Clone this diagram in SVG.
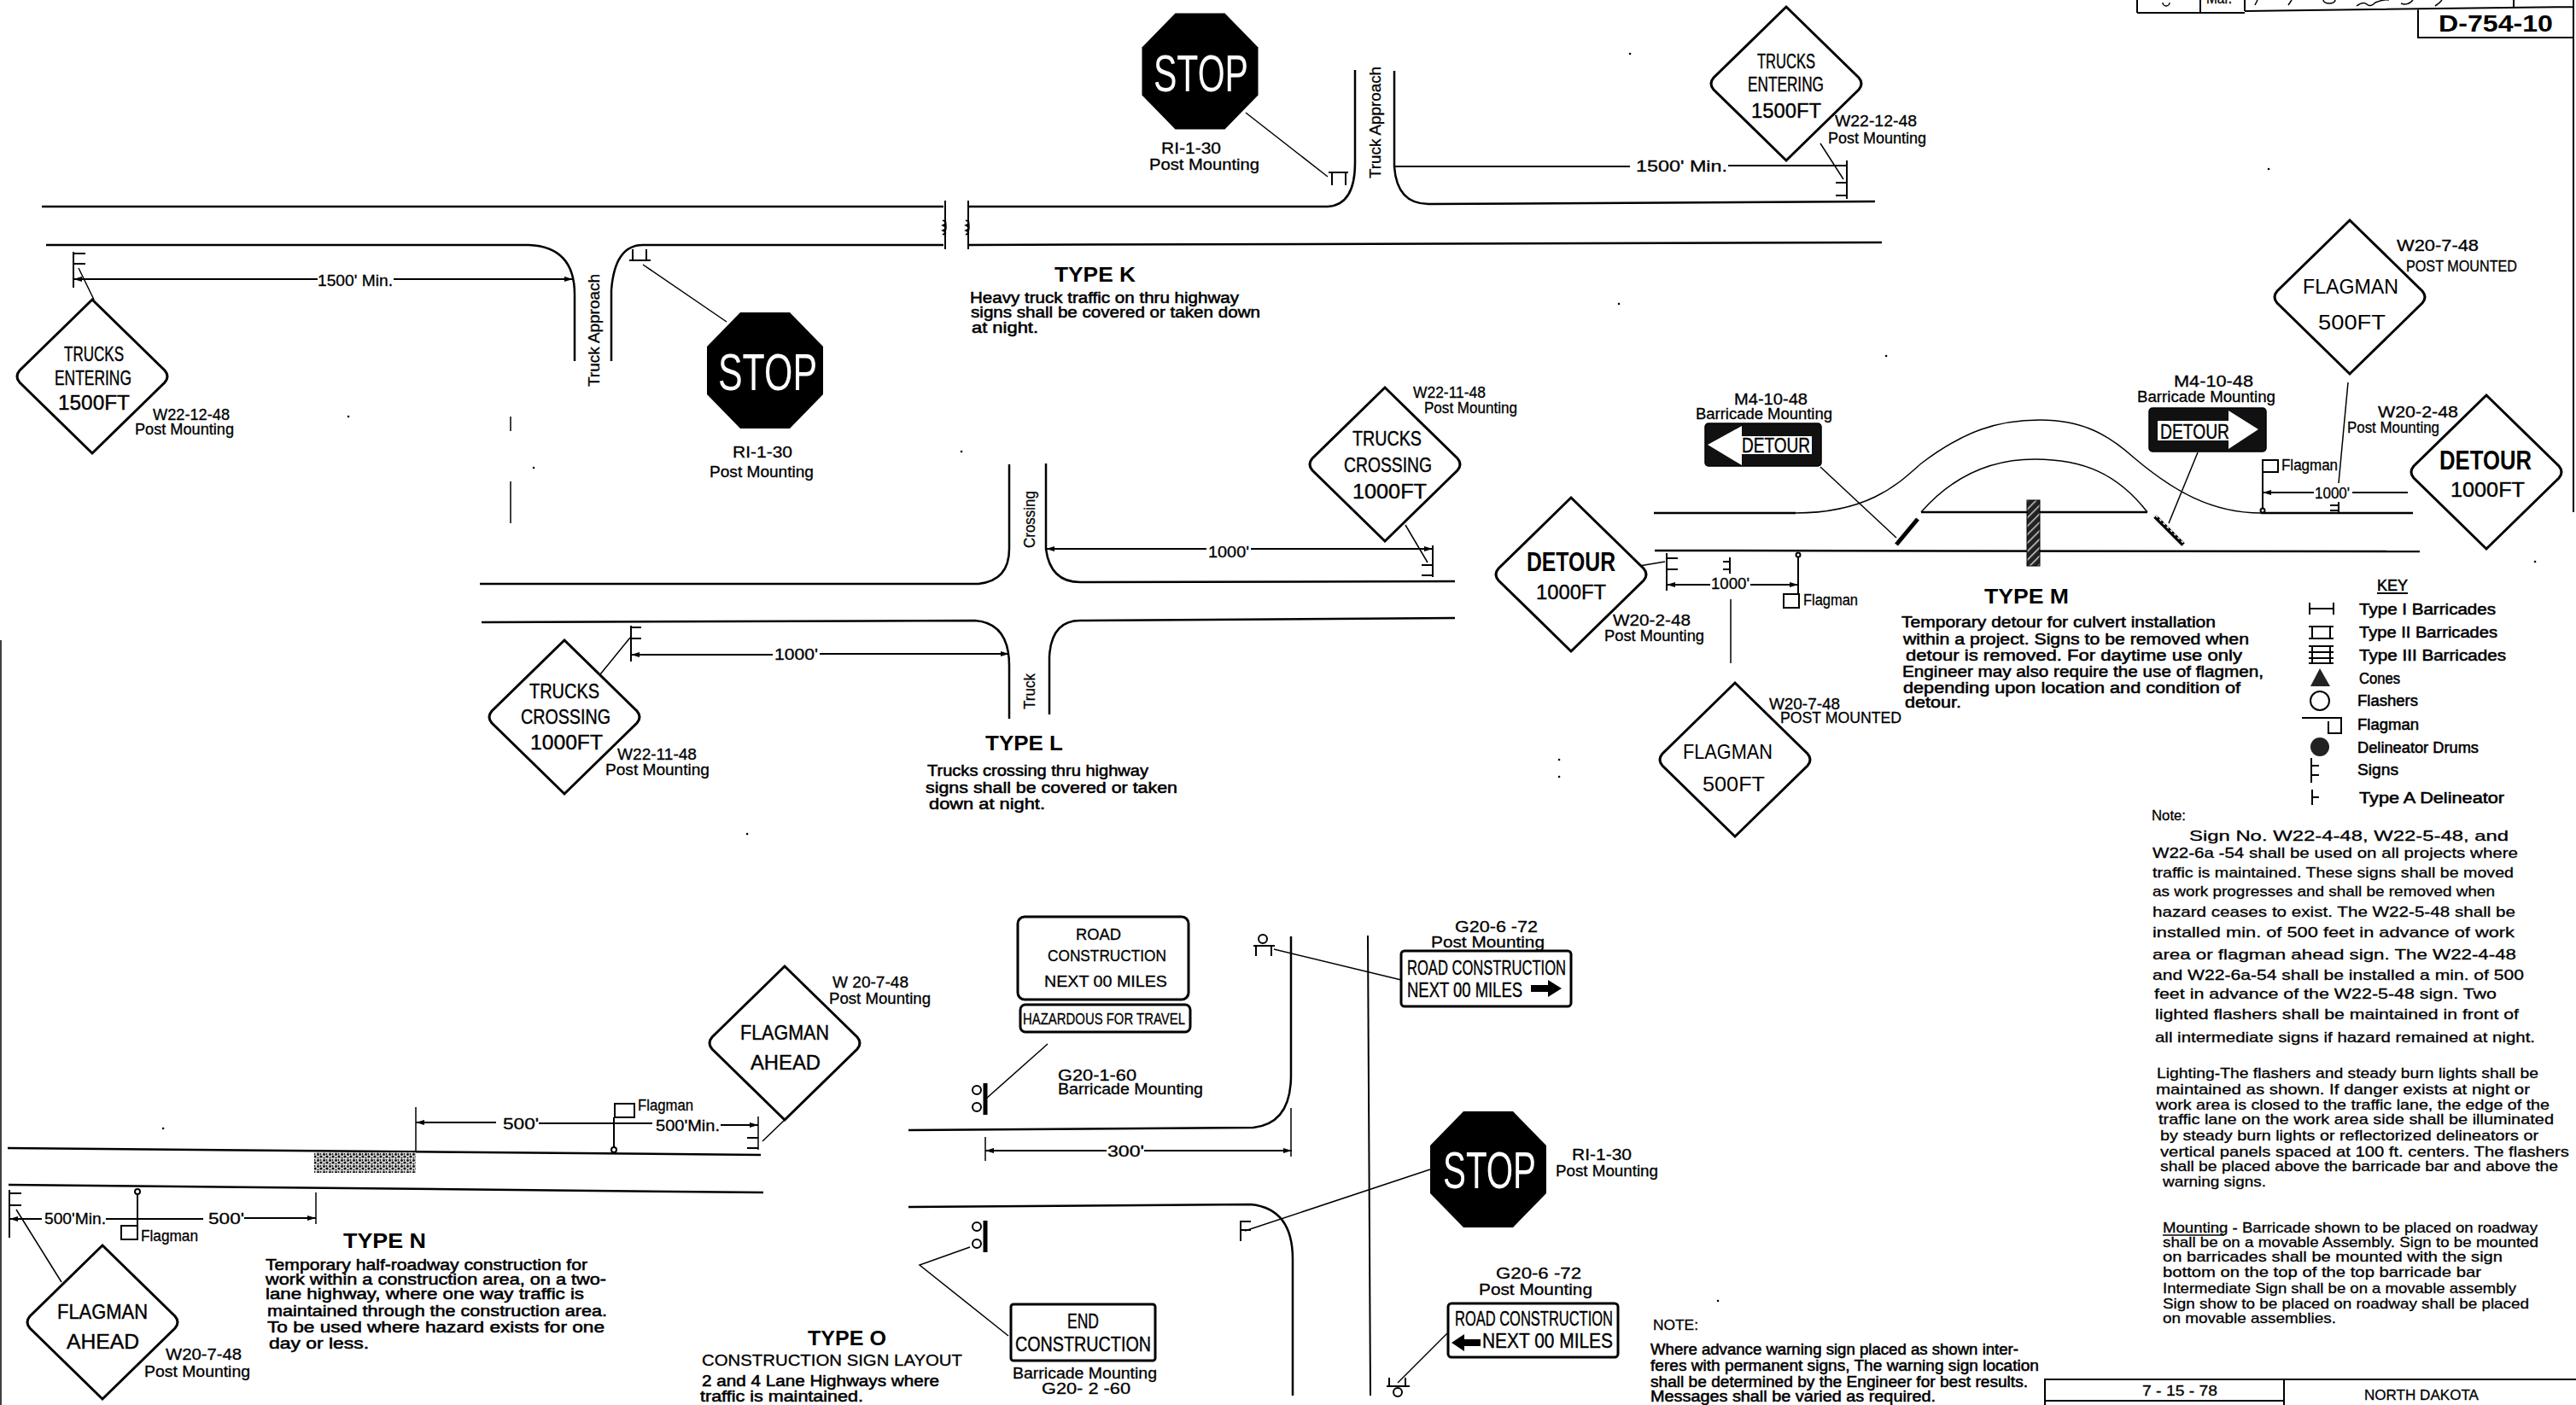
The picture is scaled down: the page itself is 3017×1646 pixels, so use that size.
<svg xmlns="http://www.w3.org/2000/svg" width="3017" height="1646" viewBox="0 0 3017 1646">
<style>
text{font-family:"Liberation Sans",Arial,sans-serif;fill:#000}
.s{font-size:18px;stroke:#000;stroke-width:.3px}
.p{font-size:18px;stroke:#000;stroke-width:.55px}
.n{font-size:17px;stroke:#000;stroke-width:.3px}
.h{font-size:24px;font-weight:bold}
.g{font-size:24px;stroke:#000;stroke-width:.4px}
.gb{font-size:31px;font-weight:bold}
.stop{font-size:62px;fill:#fff}
.w{fill:#fff}
.road{fill:none;stroke:#000;stroke-width:2.5}
.lead{fill:none;stroke:#000;stroke-width:1.5}
.dim{fill:none;stroke:#000;stroke-width:2;marker-end:url(#ah)}
.plain{fill:none;stroke:#000;stroke-width:2}
.sign{fill:#fff;stroke:#000;stroke-width:3}
.oct{fill:#000}
.blk{fill:#111;stroke:#000;stroke-width:1.5}
.fl{fill:#fff;stroke:#000;stroke-width:2}
</style>
<defs>
<marker id="ah" viewBox="0 0 10 6" refX="10" refY="3" markerWidth="10" markerHeight="6" markerUnits="userSpaceOnUse" orient="auto"><path d="M0,0L10,3L0,6Z" fill="#000"/></marker>
<path id="dia" d="M0,-90L85,-7Q91,0 85,7L0,90L-85,7Q-91,0 -85,-7Z"/>
<polygon id="octa" points="-29,-68 29,-68 68,-28 68,28 29,68 -29,68 -68,28 -68,-28"/>
<pattern id="hatch" width="7" height="7" patternUnits="userSpaceOnUse" patternTransform="rotate(-45)"><rect width="7" height="7" fill="#222"/><rect y="0" width="7" height="1.5" fill="#ccc"/></pattern>
<pattern id="stip" width="7" height="7" patternUnits="userSpaceOnUse"><rect width="7" height="7" fill="#ddd"/><circle cx="1.5" cy="1.5" r="1.4" fill="#111"/><circle cx="5" cy="4" r="1.6" fill="#111"/><circle cx="4.5" cy="1" r=".9" fill="#111"/><circle cx="1.5" cy="5.5" r="1" fill="#111"/></pattern>
</defs>
<rect width="3017" height="1646" fill="#fff"/>

<g id="roads">
<path class="road" d="M49,242H1105M1135,242H1555Q1587,240 1587,191V82"/>
<path class="road" d="M1633,83V195Q1636,239 1673,239L2196,236"/>
<path class="road" d="M54,287H619Q673,289 673,345V423"/>
<path class="road" d="M716,423V340Q720,287 753,287H1105M1135,287L2204,284"/>
<path class="plain" d="M1107,235V292M1134,235V292"/>
<path class="lead" d="M1104,258q7,3 0,6q7,3 0,6q7,3 0,5q6,-3 3,-18M1131,258q7,3 0,6q7,3 0,6q7,3 0,5q6,-3 3,-18"/>
<path class="road" d="M562,684H1146Q1182,680 1182,643V544"/>
<path class="road" d="M1225,543V643Q1230,682 1265,682L1704,681"/>
<path class="road" d="M564,729L1142,727Q1182,730 1182,780V842"/>
<path class="road" d="M1229,837V770Q1231,727 1265,727L1704,724"/>
<path class="road" d="M1937,601H2103M2648,601H2826"/>
<path class="lead" d="M2103,601C2190,601 2225,565 2250,543C2300,505 2340,492 2389,492C2440,492 2470,510 2499,536C2545,575 2590,601 2648,601"/>
<path class="road" d="M2250,600H2515"/>
<path class="lead" d="M2250,600C2285,560 2330,538 2383,538C2440,538 2480,555 2515,600"/>
<path class="road" d="M1938,645L2834,646"/>
<rect x="2374" y="586" width="15" height="77" fill="url(#hatch)" stroke="#000"/>
<path d="M2246,608L2221,638" fill="none" stroke="#000" stroke-width="5"/>
<path d="M2524,605L2557,638" fill="none" stroke="#000" stroke-width="5"/>
<path d="M2525,604L2558,637" fill="none" stroke="#fff" stroke-width="1.5" stroke-dasharray="3 3"/>
<path class="road" d="M9,1345L891,1353"/>
<path class="road" d="M10,1388L894,1397"/>
<rect x="368" y="1350" width="119" height="24" fill="url(#stip)"/>
<path class="road" d="M1064,1324L1468,1321Q1512,1316 1512,1260V1097"/>
<path class="road" d="M1064,1414L1465,1411Q1514,1416 1514,1475V1635"/>
<path class="plain" d="M1602,1096L1605,1635"/>
<path class="lead" d="M598,488V505M598,564V613"/>
</g>

<g id="connectors">
<path class="dim" d="M372,327H86"/><path class="dim" d="M461,327H671"/>
<path class="lead" d="M92,314L110,351"/>
<path class="lead" d="M753,310L851,377"/>
<path class="lead" d="M1459,132L1555,207"/>
<path class="plain" d="M1633,195H1909M2024,194H2162"/>
<path class="lead" d="M2132,168L2159,210"/>
<path class="dim" d="M1413,643H1225"/><path class="dim" d="M1465,643H1678"/>
<path class="lead" d="M1646,615L1672,659"/>
<path class="dim" d="M905,767H739"/><path class="dim" d="M960,766H1182"/>
<path class="lead" d="M738,747L703,790"/>
<path class="lead" d="M2132,547L2221,630"/>
<path class="lead" d="M2574,530L2540,613"/>
<path class="dim" d="M2710,577H2650"/><path class="plain" d="M2755,577H2820"/>
<path class="lead" d="M2750,448L2739,566"/>
<path class="lead" d="M1920,663L1950,658"/>
<path class="dim" d="M2003,685H1952"/><path class="dim" d="M2050,685H2106"/>
<path class="lead" d="M2027,702V777"/>
<path class="dim" d="M581,1315H487"/><path class="plain" d="M631,1316H764"/><path class="dim" d="M844,1318H888"/>
<path class="lead" d="M487,1297V1350M888,1308V1347"/>
<path class="lead" d="M920,1311L893,1337"/>
<path class="dim" d="M49,1428H11"/><path class="plain" d="M124,1428H238"/><path class="dim" d="M286,1427H370"/>
<path class="lead" d="M370,1397V1434"/>
<path class="lead" d="M19,1417L72,1502"/>
<path class="lead" d="M1227,1223L1155,1287"/>
<path class="dim" d="M1296,1348H1154"/><path class="dim" d="M1340,1348H1513"/>
<path class="lead" d="M1154,1332V1360M1512,1298V1355"/>
<path class="lead" d="M1136,1461L1077,1482L1181,1565"/>
<path class="lead" d="M1492,1112L1641,1148"/>
<path class="lead" d="M1675,1370L1458,1442"/>
<path class="lead" d="M1695,1562L1637,1620"/>
</g>

<g id="sign-posts">
<path class="plain" d="M86,295V337M86,297H100M86,309H100"/>
<path class="plain" d="M737,305H762M741,305V292M757,305V292"/>
<path class="plain" d="M1556,202H1579M1560,202V217M1576,202V217"/>
<path class="plain" d="M2163,188V233M2150,214H2163M2150,229H2163"/>
<path class="plain" d="M1678,639V676M1665,662H1678M1665,674H1678"/>
<path class="plain" d="M739,733V775M739,735H751M739,748H751"/>
<path class="plain" d="M1952,648V692M1952,654H1965M1952,667H1965"/>
<path class="plain" d="M2026,653V672M2018,658H2026M2018,667H2026"/>
<path class="plain" d="M2739,588V601M2729,592H2739M2729,598H2739"/>
<path class="plain" d="M2650,553V596"/><circle class="fl" cx="2650" cy="598" r="2.5"/>
<rect class="fl" x="2650" y="539" width="18" height="14"/>
<path class="plain" d="M2106,652V696"/><circle class="fl" cx="2106" cy="650" r="2.5"/>
<rect class="fl" x="2089" y="696" width="18" height="16"/>
<path class="plain" d="M888,1333H875M888,1345H875"/>
<path class="plain" d="M719,1309V1344"/><circle class="fl" cx="719" cy="1347" r="3"/>
<rect class="fl" x="720" y="1293" width="23" height="16"/>
<path class="plain" d="M11,1394V1450M11,1398H25M11,1412H25"/>
<path class="plain" d="M161,1399V1436"/><circle class="fl" cx="161" cy="1396" r="3"/>
<rect class="fl" x="142" y="1436" width="19" height="16"/>
<path d="M1154,1269V1306" fill="none" stroke="#000" stroke-width="5"/><circle class="fl" cx="1144" cy="1277" r="5"/><circle class="fl" cx="1144" cy="1297" r="5"/>
<path d="M1154,1430V1467" fill="none" stroke="#000" stroke-width="5"/><circle class="fl" cx="1144" cy="1437" r="5"/><circle class="fl" cx="1144" cy="1457" r="5"/>
<circle class="fl" cx="1479" cy="1100" r="5"/><path class="plain" d="M1468,1108H1493M1471,1108V1120M1489,1108V1120"/>
<path class="plain" d="M1453,1430V1454M1453,1431H1465M1453,1441H1465"/>
<path class="plain" d="M1627,1614V1624M1646,1614V1624M1624,1624H1651"/><circle class="fl" cx="1637" cy="1631" r="5"/>
</g>

<g id="sign-trucks-entering-left">
<use href="#dia" x="108" y="441" class="sign"/>
<text class="g" x="75" y="423" textLength="70" lengthAdjust="spacingAndGlyphs">TRUCKS</text>
<text class="g" x="64" y="451" textLength="90" lengthAdjust="spacingAndGlyphs">ENTERING</text>
<text class="g" x="68" y="480" textLength="84" lengthAdjust="spacingAndGlyphs">1500FT</text>
<text class="s" x="179" y="492" textLength="90" lengthAdjust="spacingAndGlyphs">W22-12-48</text>
<text class="s" x="158" y="509" textLength="116" lengthAdjust="spacingAndGlyphs">Post Mounting</text>
</g>
<g id="sign-stop-k-left">
<use href="#octa" x="896" y="434" class="oct"/>
<text class="stop" x="841" y="457" textLength="116" lengthAdjust="spacingAndGlyphs">STOP</text>
<text class="s" x="858" y="536" textLength="70" lengthAdjust="spacingAndGlyphs">RI-1-30</text>
<text class="s" x="831" y="559" textLength="122" lengthAdjust="spacingAndGlyphs">Post Mounting</text>
</g>
<g id="sign-stop-k-top">
<use href="#octa" x="1405.5" y="83.5" class="oct"/>
<text class="stop" x="1351" y="107" textLength="111" lengthAdjust="spacingAndGlyphs">STOP</text>
<text class="s" x="1360" y="180" textLength="70" lengthAdjust="spacingAndGlyphs">RI-1-30</text>
<text class="s" x="1346" y="199" textLength="129" lengthAdjust="spacingAndGlyphs">Post Mounting</text>
</g>
<g id="sign-trucks-entering-right">
<use href="#dia" x="2092" y="98" class="sign"/>
<text class="g" x="2058" y="80" textLength="68" lengthAdjust="spacingAndGlyphs">TRUCKS</text>
<text class="g" x="2047" y="107" textLength="89" lengthAdjust="spacingAndGlyphs">ENTERING</text>
<text class="g" x="2051" y="138" textLength="82" lengthAdjust="spacingAndGlyphs">1500FT</text>
<text class="s" x="2149" y="148" textLength="96" lengthAdjust="spacingAndGlyphs">W22-12-48</text>
<text class="s" x="2141" y="168" textLength="115" lengthAdjust="spacingAndGlyphs">Post Mounting</text>
</g>
<g id="type-k-text">
<text class="s" x="372" y="335" textLength="88" lengthAdjust="spacingAndGlyphs">1500' Min.</text>
<text class="s" x="1916" y="201" textLength="107" lengthAdjust="spacingAndGlyphs">1500' Min.</text>
<text class="s" transform="rotate(-90 702 453)" x="702" y="453" textLength="132" lengthAdjust="spacingAndGlyphs">Truck Approach</text>
<text class="s" transform="rotate(-90 1617 209)" x="1617" y="209" textLength="131" lengthAdjust="spacingAndGlyphs">Truck Approach</text>
<text class="h" x="1235" y="330" textLength="95" lengthAdjust="spacingAndGlyphs">TYPE K</text>
<text class="p" x="1136" y="355" textLength="315" lengthAdjust="spacingAndGlyphs">Heavy truck traffic on thru highway</text>
<text class="p" x="1137" y="372" textLength="339" lengthAdjust="spacingAndGlyphs">signs shall be covered or taken down</text>
<text class="p" x="1138" y="390" textLength="78" lengthAdjust="spacingAndGlyphs">at night.</text>
</g>

<g id="sign-trucks-crossing-right">
<use href="#dia" x="1622" y="544" class="sign"/>
<text class="g" x="1584" y="522" textLength="81" lengthAdjust="spacingAndGlyphs">TRUCKS</text>
<text class="g" x="1574" y="553" textLength="103" lengthAdjust="spacingAndGlyphs">CROSSING</text>
<text class="g" x="1584" y="584" textLength="87" lengthAdjust="spacingAndGlyphs">1000FT</text>
<text class="s" x="1655" y="466" textLength="85" lengthAdjust="spacingAndGlyphs">W22-11-48</text>
<text class="s" x="1668" y="484" textLength="109" lengthAdjust="spacingAndGlyphs">Post Mounting</text>
</g>
<g id="sign-trucks-crossing-left">
<use href="#dia" x="661" y="840" class="sign"/>
<text class="g" x="620" y="818" textLength="82" lengthAdjust="spacingAndGlyphs">TRUCKS</text>
<text class="g" x="610" y="848" textLength="105" lengthAdjust="spacingAndGlyphs">CROSSING</text>
<text class="g" x="621" y="878" textLength="85" lengthAdjust="spacingAndGlyphs">1000FT</text>
<text class="s" x="723" y="890" textLength="93" lengthAdjust="spacingAndGlyphs">W22-11-48</text>
<text class="s" x="709" y="908" textLength="122" lengthAdjust="spacingAndGlyphs">Post Mounting</text>
</g>
<g id="type-l-text">
<text class="s" transform="rotate(-90 1212 642)" x="1212" y="642" textLength="67" lengthAdjust="spacingAndGlyphs">Crossing</text>
<text class="s" transform="rotate(-90 1212 831)" x="1212" y="831" textLength="42" lengthAdjust="spacingAndGlyphs">Truck</text>
<text class="s" x="1415" y="653" textLength="48" lengthAdjust="spacingAndGlyphs">1000'</text>
<text class="s" x="907" y="773" textLength="51" lengthAdjust="spacingAndGlyphs">1000'</text>
<text class="h" x="1154" y="879" textLength="91" lengthAdjust="spacingAndGlyphs">TYPE L</text>
<text class="p" x="1086" y="909" textLength="259" lengthAdjust="spacingAndGlyphs">Trucks crossing thru highway</text>
<text class="p" x="1084" y="929" textLength="295" lengthAdjust="spacingAndGlyphs">signs shall be covered or taken</text>
<text class="p" x="1088" y="948" textLength="136" lengthAdjust="spacingAndGlyphs">down at night.</text>
</g>

<g id="sign-detour-arrow-left">
<rect class="blk" x="1997" y="496" width="136" height="50" rx="4"/>
<polygon class="w" points="2000,521 2040,499 2040,511 2122,511 2122,532 2040,532 2040,545"/>
<text class="g" x="2040" y="530" textLength="80" lengthAdjust="spacingAndGlyphs">DETOUR</text>
<text class="s" x="2031" y="474" textLength="86" lengthAdjust="spacingAndGlyphs">M4-10-48</text>
<text class="s" x="1986" y="491" textLength="160" lengthAdjust="spacingAndGlyphs">Barricade Mounting</text>
</g>
<g id="sign-detour-arrow-right">
<rect class="blk" x="2517" y="478" width="137" height="51" rx="4"/>
<polygon class="w" points="2527,493 2610,493 2610,481 2645,503 2610,526 2610,516 2527,516"/>
<text class="g" x="2530" y="514" textLength="81" lengthAdjust="spacingAndGlyphs">DETOUR</text>
<text class="s" x="2546" y="453" textLength="93" lengthAdjust="spacingAndGlyphs">M4-10-48</text>
<text class="s" x="2503" y="471" textLength="162" lengthAdjust="spacingAndGlyphs">Barricade Mounting</text>
</g>
<g id="sign-flagman-500-right">
<use href="#dia" x="2752" y="348" class="sign"/>
<text class="g" style="stroke-width:0" x="2697" y="344" textLength="112" lengthAdjust="spacingAndGlyphs">FLAGMAN</text>
<text class="g" style="stroke-width:0" x="2715" y="386" textLength="79" lengthAdjust="spacingAndGlyphs">500FT</text>
<text class="s" x="2807" y="294" textLength="96" lengthAdjust="spacingAndGlyphs">W20-7-48</text>
<text class="s" x="2818" y="318" textLength="130" lengthAdjust="spacingAndGlyphs">POST MOUNTED</text>
</g>
<g id="sign-detour-1000-right">
<use href="#dia" x="2912" y="553" class="sign"/>
<text class="gb" x="2857" y="550" textLength="108" lengthAdjust="spacingAndGlyphs">DETOUR</text>
<text class="g" x="2870" y="582" textLength="87" lengthAdjust="spacingAndGlyphs">1000FT</text>
<text class="s" x="2785" y="489" textLength="94" lengthAdjust="spacingAndGlyphs">W20-2-48</text>
<text class="s" x="2749" y="507" textLength="108" lengthAdjust="spacingAndGlyphs">Post Mounting</text>
</g>
<g id="sign-detour-1000-left">
<use href="#dia" x="1840" y="673" class="sign"/>
<text class="gb" x="1788" y="669" textLength="104" lengthAdjust="spacingAndGlyphs">DETOUR</text>
<text class="g" x="1799" y="702" textLength="82" lengthAdjust="spacingAndGlyphs">1000FT</text>
<text class="s" x="1889" y="733" textLength="91" lengthAdjust="spacingAndGlyphs">W20-2-48</text>
<text class="s" x="1879" y="751" textLength="117" lengthAdjust="spacingAndGlyphs">Post Mounting</text>
</g>
<g id="sign-flagman-500-left">
<use href="#dia" x="2032" y="890" class="sign"/>
<text class="g" style="stroke-width:0" x="1971" y="889" textLength="105" lengthAdjust="spacingAndGlyphs">FLAGMAN</text>
<text class="g" style="stroke-width:0" x="1994" y="927" textLength="73" lengthAdjust="spacingAndGlyphs">500FT</text>
<text class="s" x="2072" y="831" textLength="83" lengthAdjust="spacingAndGlyphs">W20-7-48</text>
<text class="s" x="2085" y="847" textLength="142" lengthAdjust="spacingAndGlyphs">POST MOUNTED</text>
</g>
<g id="type-m-text">
<text class="s" x="2672" y="551" textLength="66" lengthAdjust="spacingAndGlyphs">Flagman</text>
<text class="s" x="2711" y="584" textLength="41" lengthAdjust="spacingAndGlyphs">1000'</text>
<text class="s" x="2004" y="690" textLength="45" lengthAdjust="spacingAndGlyphs">1000'</text>
<text class="s" x="2112" y="709" textLength="64" lengthAdjust="spacingAndGlyphs">Flagman</text>
<text class="h" x="2324" y="707" textLength="99" lengthAdjust="spacingAndGlyphs">TYPE M</text>
<text class="p" x="2227" y="735" textLength="368" lengthAdjust="spacingAndGlyphs">Temporary detour for culvert installation</text>
<text class="p" x="2229" y="755" textLength="405" lengthAdjust="spacingAndGlyphs">within a project. Signs to be removed when</text>
<text class="p" x="2232" y="774" textLength="394" lengthAdjust="spacingAndGlyphs">detour is removed. For daytime use only</text>
<text class="p" x="2228" y="793" textLength="423" lengthAdjust="spacingAndGlyphs">Engineer may also require the use of flagmen,</text>
<text class="p" x="2229" y="812" textLength="395" lengthAdjust="spacingAndGlyphs">depending upon location and condition of</text>
<text class="p" x="2231" y="829" textLength="66" lengthAdjust="spacingAndGlyphs">detour.</text>
</g>

<g id="key">
<text class="p" x="2784" y="692" textLength="36" lengthAdjust="spacingAndGlyphs">KEY</text><path class="plain" d="M2784,695H2820"/>
<path class="plain" d="M2705,706V720M2733,706V720M2705,713H2733"/>
<text class="p" x="2763" y="720" textLength="160" lengthAdjust="spacingAndGlyphs">Type I Barricades</text>
<path class="plain" d="M2704,734H2733M2704,748H2733M2708,734V748M2729,734V748"/>
<text class="p" x="2763" y="747" textLength="162" lengthAdjust="spacingAndGlyphs">Type II Barricades</text>
<path class="plain" d="M2704,757H2733M2704,764H2733M2704,771H2733M2704,777H2733M2708,757V777M2729,757V777"/>
<text class="p" x="2763" y="774" textLength="172" lengthAdjust="spacingAndGlyphs">Type III Barricades</text>
<polygon points="2717,783 2729,804 2706,804" fill="#222"/>
<text class="p" x="2763" y="801" textLength="48" lengthAdjust="spacingAndGlyphs">Cones</text>
<ellipse class="fl" cx="2717" cy="821" rx="11" ry="11"/>
<text class="p" x="2761" y="827" textLength="71" lengthAdjust="spacingAndGlyphs">Flashers</text>
<path class="plain" d="M2696,841H2742V859H2727V845"/>
<text class="p" x="2761" y="855" textLength="72" lengthAdjust="spacingAndGlyphs">Flagman</text>
<circle cx="2717" cy="875" r="11" fill="#222"/>
<text class="p" x="2761" y="882" textLength="142" lengthAdjust="spacingAndGlyphs">Delineator Drums</text>
<path class="plain" d="M2707,888V917M2707,897H2716M2707,908H2716"/>
<text class="p" x="2761" y="908" textLength="48" lengthAdjust="spacingAndGlyphs">Signs</text>
<path class="plain" d="M2708,925V943M2708,934H2716"/>
<text class="p" x="2763" y="941" textLength="170" lengthAdjust="spacingAndGlyphs">Type A Delineator</text>
</g>

<g id="notes">
<text class="n" x="2520" y="961" textLength="40" lengthAdjust="spacingAndGlyphs">Note:</text>
<text class="n" x="2564" y="985" textLength="374" lengthAdjust="spacingAndGlyphs">Sign No.  W22-4-48,  W22-5-48, and</text>
<text class="n" x="2521" y="1005" textLength="428" lengthAdjust="spacingAndGlyphs">W22-6a -54 shall be used on all projects where</text>
<text class="n" x="2521" y="1028" textLength="423" lengthAdjust="spacingAndGlyphs">traffic is maintained. These signs shall be moved</text>
<text class="n" x="2521" y="1050" textLength="401" lengthAdjust="spacingAndGlyphs">as work progresses and shall be removed when</text>
<text class="n" x="2521" y="1074" textLength="425" lengthAdjust="spacingAndGlyphs">hazard ceases to exist. The  W22-5-48 shall be</text>
<text class="n" x="2521" y="1098" textLength="424" lengthAdjust="spacingAndGlyphs">installed min. of 500 feet in advance of work</text>
<text class="n" x="2521" y="1124" textLength="426" lengthAdjust="spacingAndGlyphs">area or flagman ahead sign. The W22-4-48</text>
<text class="n" x="2521" y="1148" textLength="435" lengthAdjust="spacingAndGlyphs">and W22-6a-54 shall be installed a min. of 500</text>
<text class="n" x="2523" y="1170" textLength="401" lengthAdjust="spacingAndGlyphs">feet in advance of the W22-5-48 sign. Two</text>
<text class="n" x="2524" y="1194" textLength="426" lengthAdjust="spacingAndGlyphs">lighted flashers shall be maintained in front of</text>
<text class="n" x="2524" y="1221" textLength="445" lengthAdjust="spacingAndGlyphs">all intermediate signs if hazard remained at night.</text>
<text class="n" x="2526" y="1263" textLength="447" lengthAdjust="spacingAndGlyphs">Lighting-The flashers and steady burn lights shall be</text>
<text class="n" x="2525" y="1282" textLength="438" lengthAdjust="spacingAndGlyphs">maintained as shown. If danger exists at night or</text>
<text class="n" x="2525" y="1300" textLength="461" lengthAdjust="spacingAndGlyphs">work area is closed to the traffic lane, the edge of the</text>
<text class="n" x="2528" y="1317" textLength="463" lengthAdjust="spacingAndGlyphs">traffic lane on the work area side shall be illuminated</text>
<text class="n" x="2530" y="1336" textLength="443" lengthAdjust="spacingAndGlyphs">by steady burn lights or reflectorized delineators or</text>
<text class="n" x="2530" y="1355" textLength="479" lengthAdjust="spacingAndGlyphs">vertical panels spaced at 100 ft. centers. The flashers</text>
<text class="n" x="2530" y="1372" textLength="466" lengthAdjust="spacingAndGlyphs">shall be placed above the barricade bar and above the</text>
<text class="n" x="2533" y="1390" textLength="121" lengthAdjust="spacingAndGlyphs">warning signs.</text>
<text class="n" x="2533" y="1444" textLength="439" lengthAdjust="spacingAndGlyphs">Mounting - Barricade shown to be placed on roadway</text>
<path class="lead" d="M2533,1447H2605"/>
<text class="n" x="2533" y="1461" textLength="440" lengthAdjust="spacingAndGlyphs">shall be on a movable Assembly. Sign to be mounted</text>
<text class="n" x="2533" y="1478" textLength="398" lengthAdjust="spacingAndGlyphs">on barricades shall be mounted with the sign</text>
<text class="n" x="2533" y="1496" textLength="373" lengthAdjust="spacingAndGlyphs">bottom on the top of the top barricade bar</text>
<text class="n" x="2533" y="1515" textLength="414" lengthAdjust="spacingAndGlyphs">Intermediate Sign shall be on a movable assembly</text>
<text class="n" x="2533" y="1533" textLength="429" lengthAdjust="spacingAndGlyphs">Sign show to be placed on roadway shall be placed</text>
<text class="n" x="2533" y="1550" textLength="203" lengthAdjust="spacingAndGlyphs">on movable assemblies.</text>
<text class="n" x="1936" y="1558" textLength="53" lengthAdjust="spacingAndGlyphs">NOTE:</text>
<text class="p" x="1933" y="1587" textLength="431" lengthAdjust="spacingAndGlyphs">Where advance warning sign placed as shown inter-</text>
<text class="p" x="1933" y="1606" textLength="455" lengthAdjust="spacingAndGlyphs">feres with permanent signs, The warning sign location</text>
<text class="p" x="1933" y="1625" textLength="442" lengthAdjust="spacingAndGlyphs">shall be determined by the Engineer for best results.</text>
<text class="p" x="1933" y="1642" textLength="334" lengthAdjust="spacingAndGlyphs">Messages shall be varied as required.</text>
</g>

<g id="title-block">
<path class="plain" d="M2394,1616H3017M2395,1616V1646M2675,1616V1646M2395,1641H2675"/>
<text class="n" x="2509" y="1635" textLength="88" lengthAdjust="spacingAndGlyphs">7 - 15 - 78</text>
<text class="n" x="2769" y="1640" textLength="134" lengthAdjust="spacingAndGlyphs">NORTH DAKOTA</text>
<path class="plain" d="M2503,0V15M2577,0V14M2629,0V13M2944,0V10M2503,15H2629M2629,13L3014,8M2832,10V44H3013M3014,0V600"/>
<text class="h" style="font-size:28px" x="2856" y="37" textLength="134" lengthAdjust="spacingAndGlyphs">D-754-10</text>
<text class="s" x="2584" y="4" textLength="30" lengthAdjust="spacingAndGlyphs">Mar.</text>
<path class="lead" d="M2533,3a4,4 0 0,0 8,0M2644,0L2641,6M2684,0L2680,6M2721,0a7,4 0 0,0 14,0M2760,7q8,-6 12,-2t10,-2q10,-4 16,-3M2812,4q8,3 14,-4M2860,0q-3,4 -8,7"/>
</g>

<g id="type-n-text">
<text class="s" x="589" y="1323" textLength="42" lengthAdjust="spacingAndGlyphs">500'</text>
<text class="s" x="768" y="1325" textLength="75" lengthAdjust="spacingAndGlyphs">500'Min.</text>
<text class="s" x="747" y="1301" textLength="65" lengthAdjust="spacingAndGlyphs">Flagman</text>
<text class="s" x="52" y="1434" textLength="72" lengthAdjust="spacingAndGlyphs">500'Min.</text>
<text class="s" x="244" y="1434" textLength="42" lengthAdjust="spacingAndGlyphs">500'</text>
<text class="s" x="165" y="1454" textLength="67" lengthAdjust="spacingAndGlyphs">Flagman</text>
<text class="h" x="402" y="1462" textLength="97" lengthAdjust="spacingAndGlyphs">TYPE N</text>
<text class="p" x="311" y="1488" textLength="377" lengthAdjust="spacingAndGlyphs">Temporary half-roadway construction for</text>
<text class="p" x="311" y="1505" textLength="399" lengthAdjust="spacingAndGlyphs">work within a construction area, on a two-</text>
<text class="p" x="311" y="1522" textLength="373" lengthAdjust="spacingAndGlyphs">lane highway, where one way traffic is</text>
<text class="p" x="313" y="1542" textLength="398" lengthAdjust="spacingAndGlyphs">maintained through the construction area.</text>
<text class="p" x="313" y="1561" textLength="395" lengthAdjust="spacingAndGlyphs">To be used where hazard exists for one</text>
<text class="p" x="315" y="1580" textLength="117" lengthAdjust="spacingAndGlyphs">day or less.</text>
</g>
<g id="sign-flagman-ahead-top">
<use href="#dia" x="919" y="1222" class="sign"/>
<text class="g" x="867" y="1218" textLength="104" lengthAdjust="spacingAndGlyphs">FLAGMAN</text>
<text class="g" x="879" y="1253" textLength="82" lengthAdjust="spacingAndGlyphs">AHEAD</text>
<text class="s" x="975" y="1157" textLength="89" lengthAdjust="spacingAndGlyphs">W 20-7-48</text>
<text class="s" x="971" y="1176" textLength="119" lengthAdjust="spacingAndGlyphs">Post Mounting</text>
</g>
<g id="sign-flagman-ahead-bottom">
<use href="#dia" x="120" y="1549" class="sign"/>
<text class="g" x="67" y="1545" textLength="106" lengthAdjust="spacingAndGlyphs">FLAGMAN</text>
<text class="g" x="78" y="1580" textLength="85" lengthAdjust="spacingAndGlyphs">AHEAD</text>
<text class="s" x="194" y="1593" textLength="89" lengthAdjust="spacingAndGlyphs">W20-7-48</text>
<text class="s" x="169" y="1613" textLength="124" lengthAdjust="spacingAndGlyphs">Post Mounting</text>
</g>

<g id="sign-road-construction-center">
<rect class="sign" x="1192" y="1074" width="200" height="97" rx="8"/>
<text class="s" x="1260" y="1101" textLength="53" lengthAdjust="spacingAndGlyphs">ROAD</text>
<text class="s" x="1227" y="1126" textLength="139" lengthAdjust="spacingAndGlyphs">CONSTRUCTION</text>
<text class="s" x="1223" y="1156" textLength="144" lengthAdjust="spacingAndGlyphs">NEXT 00 MILES</text>
<rect class="sign" x="1195" y="1177" width="199" height="32" rx="6"/>
<text class="s" x="1198" y="1200" textLength="190" lengthAdjust="spacingAndGlyphs">HAZARDOUS FOR TRAVEL</text>
<text class="s" x="1239" y="1266" textLength="92" lengthAdjust="spacingAndGlyphs">G20-1-60</text>
<text class="s" x="1239" y="1282" textLength="170" lengthAdjust="spacingAndGlyphs">Barricade Mounting</text>
</g>
<g id="sign-end-construction">
<rect class="sign" x="1184" y="1528" width="169" height="66" rx="3"/>
<text class="g" x="1250" y="1556" textLength="37" lengthAdjust="spacingAndGlyphs">END</text>
<text class="g" x="1189" y="1583" textLength="159" lengthAdjust="spacingAndGlyphs">CONSTRUCTION</text>
<text class="s" x="1186" y="1615" textLength="169" lengthAdjust="spacingAndGlyphs">Barricade Mounting</text>
<text class="s" x="1220" y="1633" textLength="104" lengthAdjust="spacingAndGlyphs">G20- 2 -60</text>
</g>
<g id="sign-road-construction-right">
<rect class="sign" x="1641" y="1114" width="199" height="65" rx="4"/>
<text class="g" x="1648" y="1142" textLength="186" lengthAdjust="spacingAndGlyphs">ROAD CONSTRUCTION</text>
<text class="g" x="1648" y="1168" textLength="135" lengthAdjust="spacingAndGlyphs">NEXT 00 MILES</text>
<polygon points="1793,1154 1813,1154 1813,1148 1829,1158 1813,1168 1813,1162 1793,1162"/>
<text class="s" x="1704" y="1092" textLength="97" lengthAdjust="spacingAndGlyphs">G20-6 -72</text>
<text class="s" x="1676" y="1110" textLength="133" lengthAdjust="spacingAndGlyphs">Post Mounting</text>
</g>
<g id="sign-stop-o">
<use href="#octa" x="1743" y="1370" class="oct"/>
<text class="stop" x="1690" y="1392" textLength="109" lengthAdjust="spacingAndGlyphs">STOP</text>
<text class="s" x="1841" y="1359" textLength="70" lengthAdjust="spacingAndGlyphs">RI-1-30</text>
<text class="s" x="1822" y="1378" textLength="120" lengthAdjust="spacingAndGlyphs">Post Mounting</text>
</g>
<g id="sign-road-construction-lower">
<rect class="sign" x="1696" y="1527" width="199" height="63" rx="4"/>
<text class="g" x="1704" y="1553" textLength="185" lengthAdjust="spacingAndGlyphs">ROAD CONSTRUCTION</text>
<text class="g" x="1736" y="1579" textLength="153" lengthAdjust="spacingAndGlyphs">NEXT 00 MILES</text>
<polygon points="1734,1569 1715,1569 1715,1563 1700,1573 1715,1583 1715,1577 1734,1577"/>
<text class="s" x="1752" y="1498" textLength="100" lengthAdjust="spacingAndGlyphs">G20-6 -72</text>
<text class="s" x="1732" y="1517" textLength="133" lengthAdjust="spacingAndGlyphs">Post Mounting</text>
</g>
<g id="type-o-text">
<text class="s" x="1297" y="1355" textLength="43" lengthAdjust="spacingAndGlyphs">300'</text>
<text class="h" x="946" y="1576" textLength="92" lengthAdjust="spacingAndGlyphs">TYPE O</text>
<text class="s" x="822" y="1600" textLength="305" lengthAdjust="spacingAndGlyphs">CONSTRUCTION SIGN LAYOUT</text>
<text class="p" x="822" y="1624" textLength="278" lengthAdjust="spacingAndGlyphs">2 and 4 Lane Highways where</text>
<text class="p" x="820" y="1642" textLength="191" lengthAdjust="spacingAndGlyphs">traffic is maintained.</text>
</g>
<path id="specks" fill="none" stroke="#000" stroke-width="2.5" stroke-linecap="round" d="M1909,63h.1M1896,356h.1M2657,198h.1M2209,417h.1M408,488h.1M625,548h.1M1126,529h.1M875,977h.1M2969,658h.1M2012,1524h.1M191,1322h.1M1826,890h.1M1826,910h.1"/>
<path id="edge" class="lead" d="M1,750V1646"/>
</svg>
